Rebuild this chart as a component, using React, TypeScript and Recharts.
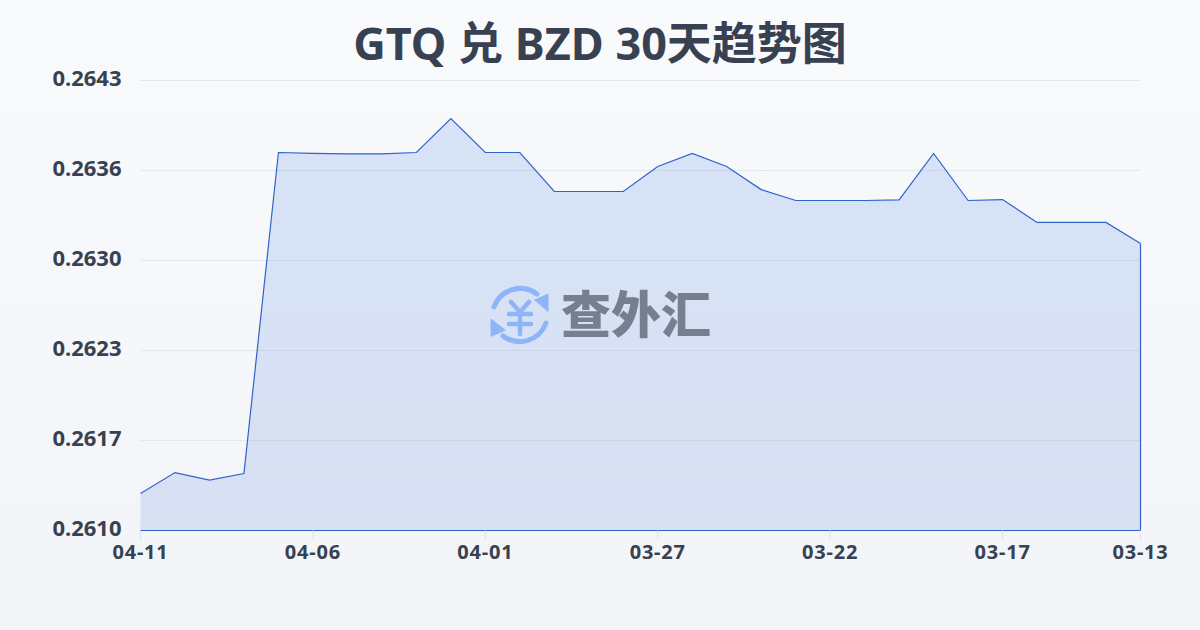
import { Area, AreaChart, CartesianGrid, ReferenceLine, XAxis, YAxis } from "recharts"

const dates = [
  "04-11", "04-10", "04-09", "04-08", "04-07", "04-06", "04-05", "04-04", "04-03", "04-02",
  "04-01", "03-31", "03-30", "03-29", "03-28", "03-27", "03-26", "03-25", "03-24", "03-23",
  "03-22", "03-21", "03-20", "03-19", "03-18", "03-17", "03-16", "03-15", "03-14", "03-13",
]
const rates = [
  0.261271, 0.261425, 0.26137, 0.261418, 0.263772, 0.263765, 0.263762, 0.263762, 0.263772, 0.264021,
  0.263772, 0.263772, 0.263486, 0.263486, 0.263486, 0.263669, 0.263765, 0.263669, 0.2635, 0.26342,
  0.26342, 0.26342, 0.263424, 0.263765, 0.26342, 0.263427, 0.263259, 0.263259, 0.263259, 0.263105,
]
const xTicks = ["04-11", "04-06", "04-01", "03-27", "03-22", "03-17", "03-13"]
const yTicks = [0.261, 0.26166, 0.26232, 0.26298, 0.26364, 0.2643]

const data = dates.map((date, i) => ({ date, rate: rates[i] }))

const LINE = "#2f62cc"
const TEXT = "#374151"
const FONT = '"Noto Sans", "Noto Sans CJK SC", sans-serif'
const first = data[0]
const last = data[data.length - 1]

function Watermark() {
  return (
    <div style={{ position: "absolute", left: 488, top: 283, display: "flex", alignItems: "center", pointerEvents: "none" }}>
      <svg width="64" height="64" viewBox="0 0 64 64" fill="none" stroke="#8db5f7" strokeWidth="5" strokeLinecap="round">
        <path d="M6 24 A28 28 0 0 1 49 11" />
        <path d="M58 40 A28 28 0 0 1 15 53" />
        <path d="M47 17 L60 11 L60 28 Z" fill="#8db5f7" strokeWidth="1" strokeLinejoin="round" />
        <path d="M17 47 L3 36 L3 53 Z" fill="#8db5f7" strokeWidth="1" strokeLinejoin="round" />
        <path d="M23 19 L32 29 L41 19 M21 31 H43 M21 41 H43 M32 29 V51" strokeWidth="4.5" />
      </svg>
      <span style={{ marginLeft: 9, marginTop: -8, fontFamily: '"Noto Sans CJK SC", sans-serif', fontWeight: 900, fontSize: 50, lineHeight: "64px", color: "#757f90" }}>
        查外汇
      </span>
    </div>
  )
}

export default function App() {
  return (
    <div
      style={{
        position: "absolute",
        left: 0,
        top: 0,
        width: 1200,
        height: 630,
        overflow: "hidden",
        background: "linear-gradient(180deg, #f9fafc 0%, #f2f4f7 100%)",
      }}
    >
      <div
        style={{
          position: "absolute",
          left: 0,
          width: 1200,
          top: 11,
          textAlign: "center",
          fontFamily: FONT,
          fontWeight: 700,
          fontSize: 45,
          lineHeight: "64px",
          color: TEXT,
          whiteSpace: "pre",
        }}
      >
        GTQ 兑 BZD 30天趋势图
      </div>
      <AreaChart width={1200} height={630} data={data} margin={{ top: 80.5, right: 59.5, bottom: 0, left: 0.5 }} style={{ position: "absolute", left: 0, top: 0 }}>
        <defs>
          <linearGradient id="rateFill" x1="0" y1="0" x2="0" y2="1">
            <stop offset="0%" stopColor="#3b76e8" stopOpacity={0.17} />
            <stop offset="100%" stopColor="#2f62cc" stopOpacity={0.14} />
          </linearGradient>
        </defs>
        <CartesianGrid horizontal vertical={false} stroke="#e4e7ec" strokeWidth={1} />
        <XAxis
          dataKey="date"
          ticks={xTicks}
          interval={0}
          axisLine={false}
          tickLine={{ stroke: "#dfe2e7" }}
          tickSize={10}
          tickMargin={4}
          tick={{ fill: TEXT, fontSize: 20, fontWeight: 700, fontFamily: FONT, letterSpacing: 0.8 }}
          height={99.5}
        />
        <YAxis
          domain={[0.261, 0.2643]}
          ticks={yTicks}
          tickFormatter={(v: number) => v.toFixed(4)}
          axisLine={false}
          tickLine={false}
          width={140}
          tickMargin={13}
          tick={{ fill: TEXT, fontSize: 22, fontWeight: 700, fontFamily: FONT, dy: -2 }}
        />
        <Area
          type="linear"
          dataKey="rate"
          stroke={LINE}
          strokeWidth={1.2}
          fill="url(#rateFill)"
          fillOpacity={1}
          dot={false}
          activeDot={false}
          isAnimationActive={false}
        />
        <ReferenceLine y={0.261} stroke={LINE} strokeWidth={1.2} />
        <ReferenceLine segment={[{ x: first.date, y: 0.261 }, { x: first.date, y: first.rate }]} stroke={LINE} strokeWidth={1.2} />
        <ReferenceLine segment={[{ x: last.date, y: 0.261 }, { x: last.date, y: last.rate }]} stroke={LINE} strokeWidth={1.2} />
      </AreaChart>
      <Watermark />
    </div>
  )
}
